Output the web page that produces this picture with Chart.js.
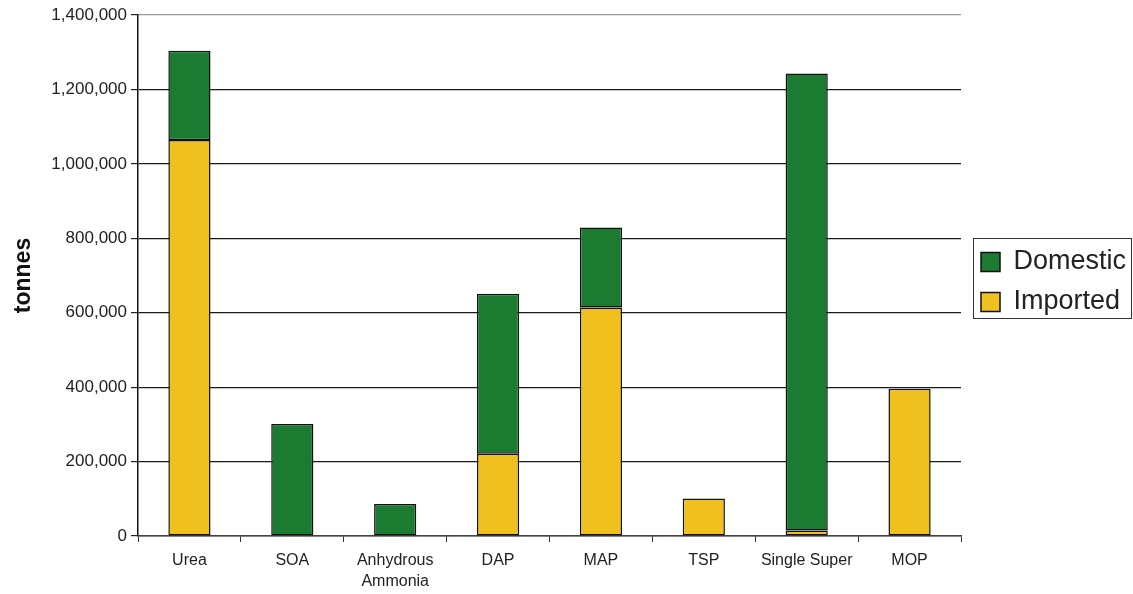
<!DOCTYPE html>
<html>
<head>
<meta charset="utf-8">
<script src="https://cdn.jsdelivr.net/npm/chart.js@4"></script>
<style>
    body { margin: 0; background: #fff; }
</style>
</head>
<body>
<canvas id="fertChart" width="1133" height="594"></canvas>
<script>
// categories and values (tonnes)
const categories = ["Urea", "SOA", ["Anhydrous", "Ammonia"], "DAP", "MAP", "TSP", "Single Super", "MOP"];
const imported = [1064000, null, null, 221000, 614000, 101000, 15000, 396000];
const domestic = [240000, 301000, 86000, 430000, 215000, null, 1228000, null];
const yTicks = [0, 200000, 400000, 600000, 800000, 1000000, 1200000, 1400000];

const GREEN = "#1b7b31";
const YELLOW = "#f0c01e";
const FONT = "'Liberation Sans', Arial, sans-serif";

// frame around the legend + fixed legend placement
const legendFrame = {
    id: "legendFrame",
    afterInit(chart) {
        const origFit = chart.legend.fit;
        chart.legend.fit = function () {
            origFit.call(this);
            this.width = 172;
        };
    },
    afterLayout(chart) {
        const lg = chart.legend;
        lg.left = chart.chartArea.right + 7;
        lg.top = 235.5;
    },
    afterDraw(chart) {
        const lg = chart.legend;
        const ctx = chart.ctx;
        ctx.save();
        ctx.strokeStyle = "#333";
        ctx.lineWidth = 1;
        ctx.strokeRect(lg.left + 5.5, lg.top + 3, 158, 80);
        ctx.restore();
    },
};

const config = {
    type: "bar",
    data: {
        labels: categories,
        datasets: [
            {
                label: "Imported",
                data: imported,
                backgroundColor: YELLOW,
                borderColor: "#111",
                borderWidth: 1.5,
                borderSkipped: false,
            },
            {
                label: "Domestic",
                data: domestic,
                backgroundColor: GREEN,
                borderColor: "#111",
                borderWidth: 1.5,
                borderSkipped: false,
            },
        ],
    },
    options: {
        responsive: false,
        animation: { duration: 0 },
        layout: { padding: { top: 15, left: 0, right: 0, bottom: 0 } },
        datasets: {
            bar: { barPercentage: 0.41, categoryPercentage: 1.0 },
        },
        plugins: {
            tooltip: { enabled: false },
            legend: {
                position: "right",
                align: "start",
                reverse: true,
                labels: {
                    boxWidth: 19,
                    boxHeight: 19,
                    padding: 13,
                    color: "#222",
                    font: { family: FONT, size: 27 },
                },
            },
        },
        scales: {
            x: {
                stacked: true,
                afterFit(scale) { scale.height = 58; },
                grid: {
                    offset: true,
                    drawOnChartArea: true,
                    color: (ctx) => ctx.index === categories.length ? "#999" : "rgba(0,0,0,0)",
                    tickColor: "#333",
                    tickLength: 6,
                },
                border: { display: true, color: "#444", width: 1.5 },
                ticks: {
                    color: "#222",
                    padding: 8,
                    maxRotation: 0,
                    autoSkip: false,
                    font: { family: FONT, size: 16, lineHeight: 1.3 },
                },
            },
            y: {
                stacked: true,
                min: 0,
                max: 1400000,
                afterFit(scale) { scale.width = 138; },
                afterBuildTicks(scale) { scale.ticks = yTicks.map(v => ({ value: v })); },
                grid: {
                    color: (ctx) => ctx.tick && ctx.tick.value === 1400000 ? "#999" : "#1a1a1a",
                    lineWidth: 1.2,
                    tickColor: "#222",
                    tickLength: 7,
                },
                border: { display: true, color: "#111", width: 1.5 },
                ticks: {
                    color: "#222",
                    padding: 4,
                    font: { family: FONT, size: 17 },
                    callback: (v) => Number(v).toLocaleString("en-US"),
                },
                title: {
                    display: true,
                    text: "tonnes",
                    color: "#111",
                    padding: { top: 10, bottom: 0 },
                    font: { family: FONT, size: 23, weight: "bold" },
                },
            },
        },
    },
    plugins: [legendFrame],
};

const chart = new Chart(document.getElementById("fertChart"), config);
</script>
</body>
</html>
